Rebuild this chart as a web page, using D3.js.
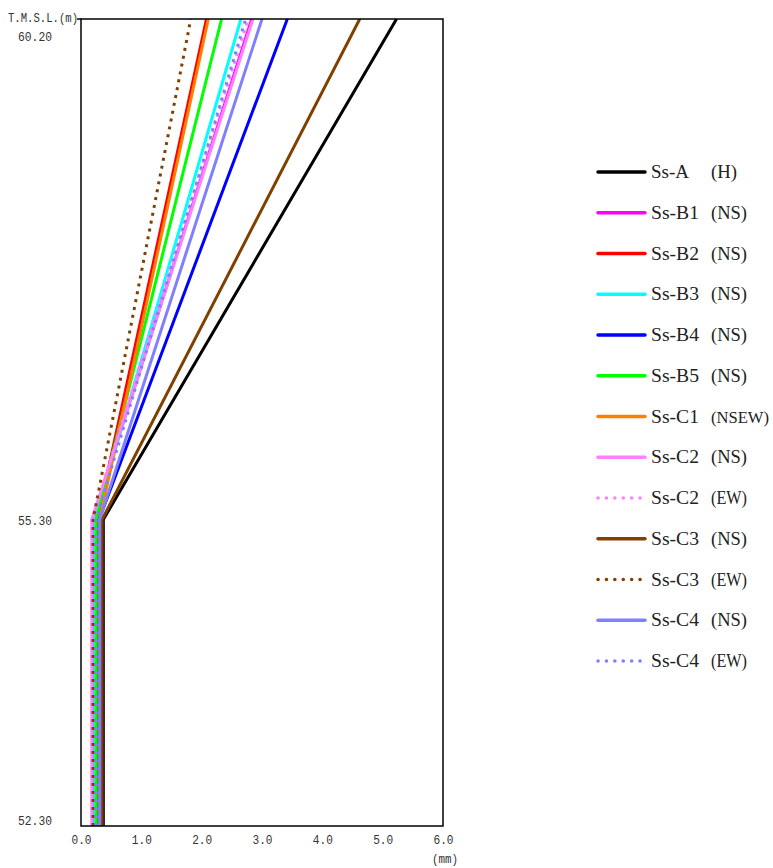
<!DOCTYPE html>
<html><head><meta charset="utf-8">
<script src="https://cdn.jsdelivr.net/npm/d3@7"></script>
<style>
body{margin:0;background:#fff;}
</style></head>
<body><svg id="c" width="773" height="868"></svg>
<script>
// Data
const elevations = [52.30, 55.30, 60.20];
const seriesIds = ["Ss-A","Ss-B1","Ss-B2","Ss-B3","Ss-B4","Ss-B5","Ss-C1","Ss-C2","Ss-C2","Ss-C3","Ss-C3","Ss-C4","Ss-C4"];
const seriesDirs = ["(H)","(NS)","(NS)","(NS)","(NS)","(NS)","(NSEW)","(NS)","(EW)","(NS)","(EW)","(NS)","(EW)"];
const seriesColors = ["#000000","#ff00ff","#ff0000","#00ffff","#0000ff","#00ff00","#ff8000","#ff80ff","#ff80ff","#804000","#804000","#8080ff","#8080ff"];
const seriesDotted = [false,false,false,false,false,false,false,false,true,false,true,false,true];
// displacement (mm) at each elevation [52.30, 55.30, 60.20]
const valA   = [0.37, 0.37, 5.23];
const valB1  = [0.19, 0.19, 2.83];
const valB2  = [0.27, 0.27, 2.08];
const valB3  = [0.23, 0.23, 2.65];
const valB4  = [0.30, 0.30, 3.42];
const valB5  = [0.25, 0.25, 2.33];
const valC1  = [0.31, 0.31, 2.11];
const valC2N = [0.18, 0.18, 2.85];
const valC2E = [0.18, 0.18, 2.77];
const valC3N = [0.35, 0.35, 4.62];
const valC3E = [0.20, 0.20, 1.82];
const valC4N = [0.31, 0.31, 3.00];
const valC4E = [0.25, 0.25, 2.73];
const seriesValues = [valA,valB1,valB2,valB3,valB4,valB5,valC1,valC2N,valC2E,valC3N,valC3E,valC4N,valC4E];
const xTicks = [0,1,2,3,4,5,6];
const yTicks = [52.30, 55.30, 60.20];

const svg = d3.select("#c");
const L=81, R=443, T=19, B=826;
const x = d3.scaleLinear().domain([0,6]).range([L,R]);
const y = d3.scaleLinear().domain([52.3,60.2]).range([B,T]);

svg.append("defs").append("clipPath").attr("id","clip")
  .append("rect").attr("x",L).attr("y",T).attr("width",R-L).attr("height",B-T);

const line = d3.line().x(d=>x(d[0])).y(d=>y(d[1]));
const g = svg.append("g").attr("clip-path","url(#clip)");
seriesValues.forEach((vals,i)=>{
  const pts = vals.map((v,j)=>[v,elevations[j]]);
  g.append("path").datum(pts).attr("d",line)
    .attr("fill","none").attr("stroke",seriesColors[i])
    .attr("stroke-width",3)
    .attr("stroke-dasharray",seriesDotted[i]?"3,5":null)
    .attr("stroke-linejoin","round");
});

// frame
svg.append("rect").attr("x",L).attr("y",T).attr("width",R-L).attr("height",B-T)
  .attr("fill","none").attr("stroke","#000").attr("stroke-width",1.5);
svg.append("line").attr("x1",L-4).attr("x2",L).attr("y1",T).attr("y2",T).attr("stroke","#000").attr("stroke-width",1.5);

const tickFont = "'Liberation Mono', monospace";
// y axis labels
const ya = svg.append("g").attr("transform",`translate(52,0)`)
  .call(d3.axisLeft(y).tickValues(yTicks).tickSize(0).tickPadding(0).tickFormat(d3.format(".2f")));
ya.select(".domain").remove();
ya.selectAll("text").attr("font-size",13).style("font-family",tickFont).attr("fill","#333")
  .attr("textLength",34).attr("lengthAdjust","spacingAndGlyphs")
  .attr("dy",d=> d===60.2? "1.65em" : d===52.3 ? "-0.15em" : "0.35em");
svg.append("text").attr("x",8).attr("y",22).attr("font-size",12).style("font-family",tickFont).attr("fill","#333")
  .attr("textLength",70).attr("lengthAdjust","spacingAndGlyphs").text("T.M.S.L.(m)");

// x axis labels
const xa = svg.append("g").attr("transform",`translate(0,${B+9})`)
  .call(d3.axisBottom(x).tickValues(xTicks).tickSize(0).tickPadding(0).tickFormat(d3.format(".1f")));
xa.select(".domain").remove();
xa.selectAll("text").attr("font-size",13).style("font-family",tickFont).attr("fill","#333")
  .attr("textLength",20).attr("lengthAdjust","spacingAndGlyphs");
svg.append("text").attr("x",445).attr("y",863).attr("text-anchor","middle").attr("font-size",12)
  .style("font-family",tickFont).attr("fill","#333")
  .attr("textLength",26).attr("lengthAdjust","spacingAndGlyphs").text("(mm)");

// legend
const legFont = "'Liberation Serif', 'DejaVu Serif', serif";
const lg = svg.append("g");
seriesIds.forEach((n,i)=>{
  const yy = 172 + i*40.75;
  lg.append("line").attr("x1",598).attr("x2",645).attr("y1",yy).attr("y2",yy)
    .attr("stroke",seriesColors[i]).attr("stroke-width",3.5)
    .attr("stroke-linecap","round")
    .attr("stroke-dasharray",seriesDotted[i]?"0.1,8.3":null);
  lg.append("text").attr("x",651).attr("y",yy+6).attr("font-size",19)
    .style("font-family",legFont).attr("fill","#222")
    .attr("textLength",n.length*10-2).attr("lengthAdjust","spacingAndGlyphs").text(n);
  const d = seriesDirs[i];
  const long = d.length > 4;
  lg.append("text").attr("x",711).attr("y",yy+6).attr("font-size",long?17:19)
    .style("font-family",legFont).attr("fill","#222")
    .attr("textLength",long?58:d.length*10-4).attr("lengthAdjust","spacingAndGlyphs").text(d);
});
</script></body></html>
